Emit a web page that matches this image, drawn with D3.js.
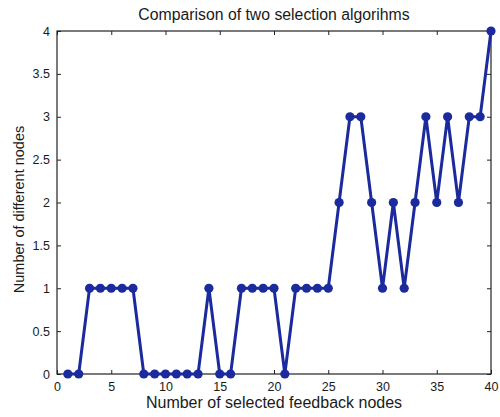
<!DOCTYPE html>
<html>
<head>
<meta charset="utf-8">
<script src="https://cdn.jsdelivr.net/npm/d3@7"></script>
<style>
  html, body { margin: 0; padding: 0; background: #fff; }
  svg text { font-family: "Liberation Sans", Arial, Helvetica, sans-serif; fill: #1a1a1a; }
</style>
</head>
<body>
<svg id="chart" width="500" height="417"></svg>
<script>
// Number of selected feedback nodes (x) and count of differing nodes (y)
const feedbackNodes = d3.range(1, 41);
const differentNodes = [0, 0, 1, 1, 1, 1, 1, 0, 0, 0,
                        0, 0, 0, 1, 0, 0, 1, 1, 1, 1,
                        0, 1, 1, 1, 1, 2, 3, 3, 2, 1,
                        2, 1, 2, 3, 2, 3, 2, 3, 3, 4];
const xTicks = [0, 5, 10, 15, 20, 25, 30, 35, 40];
const yTicks = [0, 0.5, 1, 1.5, 2, 2.5, 3, 3.5, 4];

const title = "Comparison of two selection algorihms";
const xLabel = "Number of selected feedback nodes";
const yLabel = "Number of different nodes";

const svg = d3.select("#chart");
const plotL = 57, plotR = 491, plotT = 31, plotB = 374;

const x = d3.scaleLinear().domain([0, 40]).range([plotL, plotR]);
const y = d3.scaleLinear().domain([0, 4]).range([plotB, plotT]);

const tickLen = 4;
const lineCol = "#222";

// Bottom axis with labels, ticks pointing inward
const xAxis = svg.append("g").attr("transform", `translate(0,${plotB})`)
  .call(d3.axisBottom(x).tickValues(xTicks).tickSizeInner(-tickLen).tickSizeOuter(0).tickPadding(8).tickFormat(d3.format("d")));
// Top mirror ticks
const xTop = svg.append("g").attr("transform", `translate(0,${plotT})`)
  .call(d3.axisTop(x).tickValues(xTicks).tickSizeInner(-tickLen).tickSizeOuter(0).tickFormat(""));
// Left axis with labels
const yAxis = svg.append("g").attr("transform", `translate(${plotL},0)`)
  .call(d3.axisLeft(y).tickValues(yTicks).tickSizeInner(-tickLen).tickSizeOuter(0).tickPadding(7).tickFormat(d => String(d)));
// Right mirror ticks
const yRight = svg.append("g").attr("transform", `translate(${plotR},0)`)
  .call(d3.axisRight(y).tickValues(yTicks).tickSizeInner(-tickLen).tickSizeOuter(0).tickFormat(""));

[xAxis, xTop, yAxis, yRight].forEach(g => {
  g.select(".domain").remove();
  g.selectAll(".tick line").attr("stroke", lineCol).attr("stroke-width", 1);
  g.selectAll(".tick text").attr("font-size", 12.5).attr("font-family", "Liberation Sans, Arial, sans-serif").attr("fill", "#1a1a1a");
});

// Plot box
svg.append("rect")
  .attr("x", plotL).attr("y", plotT)
  .attr("width", plotR - plotL).attr("height", plotB - plotT)
  .attr("fill", "none").attr("stroke", lineCol).attr("stroke-width", 1.2);

// Data series
const pts = feedbackNodes.map((n, i) => [n, differentNodes[i]]);
const blue = "#1b2a9c";

svg.append("path")
  .datum(pts)
  .attr("fill", "none")
  .attr("stroke", blue)
  .attr("stroke-width", 3)
  .attr("stroke-linejoin", "round")
  .attr("d", d3.line().x(d => x(d[0])).y(d => y(d[1])));

svg.append("g").selectAll("circle")
  .data(pts)
  .join("circle")
  .attr("cx", d => x(d[0]))
  .attr("cy", d => y(d[1]))
  .attr("r", 4.6)
  .attr("fill", blue);

// Title and axis labels
svg.append("text")
  .attr("x", (plotL + plotR) / 2).attr("y", 20)
  .attr("text-anchor", "middle").attr("font-size", 15.8)
  .text(title);

svg.append("text")
  .attr("x", (plotL + plotR) / 2).attr("y", 408)
  .attr("text-anchor", "middle").attr("font-size", 16)
  .text(xLabel);

svg.append("text")
  .attr("transform", `translate(24,${(plotT + plotB) / 2 + 7}) rotate(-90)`)
  .attr("text-anchor", "middle").attr("font-size", 14.5)
  .text(yLabel);
</script>
</body>
</html>
